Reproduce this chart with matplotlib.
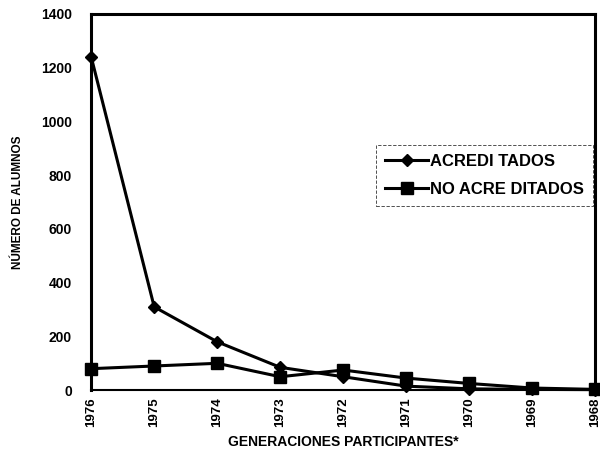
import numpy as np
import matplotlib.pyplot as plt

plt.rcParams["font.family"] = ["Liberation Sans", "DejaVu Sans"]

generaciones = ["1976", "1975", "1974", "1973", "1972", "1971", "1970", "1969", "1968"]
acreditados = [1240, 310, 180, 85, 50, 15, 5, 3, 2]
no_acreditados = [80, 90, 100, 50, 75, 45, 25, 8, 3]

x = np.arange(len(generaciones))

fig = plt.figure(figsize=(6.0, 4.49), dpi=100)
ax = fig.add_axes([0.152, 0.131, 0.840, 0.838])

ax.plot(x, acreditados, color="black", lw=2.2, marker="D", ms=6,
        label="ACREDI TADOS", clip_on=False, zorder=3)
ax.plot(x, no_acreditados, color="black", lw=2.2, marker="s", ms=8,
        label="NO ACRE DITADOS", clip_on=False, zorder=3)

ax.set_xlim(0, len(generaciones) - 1)
ax.set_ylim(0, 1400)
ax.set_yticks(np.arange(0, 1401, 200))
ax.set_xticks(x)
ax.set_xticklabels(generaciones, rotation=90, fontsize=9.5, fontweight="bold")
for lbl in ax.get_yticklabels():
    lbl.set_fontsize(10)
    lbl.set_fontweight("bold")
ax.tick_params(length=0, pad=5)
ax.tick_params(axis="y", pad=14)

for s in ax.spines.values():
    s.set_linewidth(2.2)
ax.spines["bottom"].set_linewidth(1.5)

ax.set_ylabel("NÚMERO DE ALUMNOS", fontsize=8.5, fontweight="bold", labelpad=12)
ax.set_xlabel("GENERACIONES PARTICIPANTES*", fontsize=10, fontweight="bold", labelpad=6)

leg = ax.legend(loc="upper left", bbox_to_anchor=(0.565, 0.652), fontsize=12,
                frameon=True, fancybox=False, handlelength=2.6, borderpad=0.55,
                labelspacing=0.75, handletextpad=0.1, borderaxespad=0)
leg.get_frame().set_edgecolor("black")
leg.get_frame().set_linewidth(0.6)
leg.get_frame().set_linestyle((0, (4, 2)))
leg.set_clip_on(False)
for t in leg.get_texts():
    t.set_fontweight("bold")

fig.savefig("out.png", dpi=100)
